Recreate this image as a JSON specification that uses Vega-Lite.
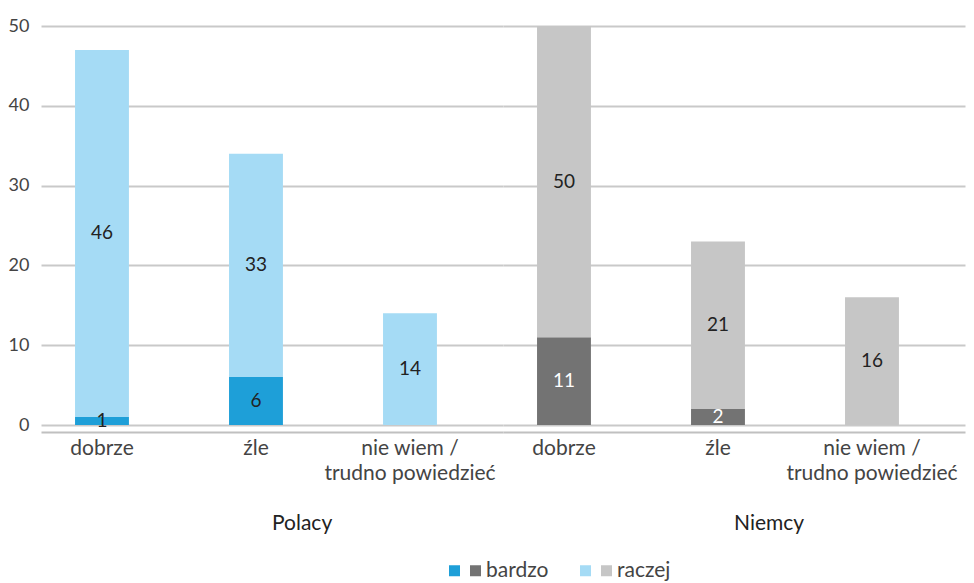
{
  "$schema": "https://vega.github.io/schema/vega-lite/v6.json",
  "background": "white",
  "padding": {"left": 8, "top": 17, "right": 6, "bottom": 0},
  "config": {
    "view": {"stroke": null},
    "font": "Lato",
    "axisY": {"grid": true, "gridColor": "#c9c9c9", "gridWidth": 2, "ticks": false, "domain": false, "labelFontSize": 18, "labelColor": "#444", "labelPadding": 12, "title": null},
    "axisX": {"grid": false, "ticks": false, "domain": true, "domainColor": "#c0c0c0", "domainWidth": 2, "labelAngle": 0, "labelFontSize": 21, "labelColor": "#444", "labelPadding": 5, "title": null, "labelLineHeight": 25}
  },
  "data": {"values": [
    {"group": "Polacy", "category": "dobrze", "level": "bardzo", "series": "Polacy|bardzo", "value": 1, "label": "1"},
    {"group": "Polacy", "category": "dobrze", "level": "raczej", "series": "Polacy|raczej", "value": 46, "label": "46"},
    {"group": "Polacy", "category": "źle", "level": "bardzo", "series": "Polacy|bardzo", "value": 6, "label": "6"},
    {"group": "Polacy", "category": "źle", "level": "raczej", "series": "Polacy|raczej", "value": 28, "label": "33"},
    {"group": "Polacy", "category": "nie wiem / trudno powiedzieć", "level": "raczej", "series": "Polacy|raczej", "value": 14, "label": "14"},
    {"group": "Niemcy", "category": "dobrze", "level": "bardzo", "series": "Niemcy|bardzo", "value": 11, "label": "11"},
    {"group": "Niemcy", "category": "dobrze", "level": "raczej", "series": "Niemcy|raczej", "value": 39, "label": "50"},
    {"group": "Niemcy", "category": "źle", "level": "bardzo", "series": "Niemcy|bardzo", "value": 2, "label": "2"},
    {"group": "Niemcy", "category": "źle", "level": "raczej", "series": "Niemcy|raczej", "value": 21, "label": "21"},
    {"group": "Niemcy", "category": "nie wiem / trudno powiedzieć", "level": "raczej", "series": "Niemcy|raczej", "value": 16, "label": "16"}
  ]},
  "facet": {
    "column": {"field": "group", "type": "nominal", "sort": ["Polacy", "Niemcy"],
      "header": {"labelOrient": "bottom", "title": null, "labelFontSize": 21, "labelColor": "#222", "labelPadding": 30, "labelFont": "Lato", "labelAlign": "left"}}
  },
  "spacing": 0,
  "spec": {
    "width": 462,
    "height": 399,
    "encoding": {
      "x": {"field": "category", "type": "nominal", "sort": ["dobrze", "źle", "nie wiem / trudno powiedzieć"],
        "scale": {"paddingInner": 0.65, "paddingOuter": 0.325, "align": 0.34},
        "axis": {"labelExpr": "datum.label == 'nie wiem / trudno powiedzieć' ? ['nie wiem /', 'trudno powiedzieć'] : datum.label"}}
    },
    "layer": [
      {
        "mark": {"type": "bar"},
        "encoding": {
          "y": {"field": "value", "type": "quantitative", "stack": "zero", "scale": {"domain": [0, 50]}, "axis": {"values": [0, 10, 20, 30, 40, 50]}},
          "color": {"field": "series", "type": "nominal",
            "scale": {"domain": ["Polacy|bardzo", "Niemcy|bardzo", "Polacy|raczej", "Niemcy|raczej"], "range": ["#1e9fd8", "#737373", "#a5dbf5", "#c6c6c6"]},
            "legend": {"orient": "none", "legendX": 403, "legendY": 534, "direction": "horizontal", "columns": 4, "title": null, "symbolType": "square", "symbolSize": 121, "symbolStrokeWidth": 0, "labelFontSize": 21, "labelColor": "#444", "labelOffset": 0, "columnPadding": -12,
              "labelExpr": "indexof(datum.label, 'Polacy') == 0 ? '' : (split(datum.label, '|')[1] == 'bardzo' ? 'bardzo\u2003\u00a0\u00a0\u200b' : 'raczej')"}},
          "order": {"field": "level", "sort": "ascending"}
        }
      },
      {
        "mark": {"type": "text", "fontSize": 19, "font": "Lato"},
        "encoding": {
          "y": {"field": "value", "type": "quantitative", "stack": "zero", "bandPosition": 0.5},
          "detail": {"field": "level"},
          "order": {"field": "level", "sort": "ascending"},
          "text": {"field": "label"},
          "color": {"condition": {"test": "datum.group == 'Niemcy' && datum.level == 'bardzo'", "value": "white"}, "value": "#222"}
        }
      }
    ]
  }
}
